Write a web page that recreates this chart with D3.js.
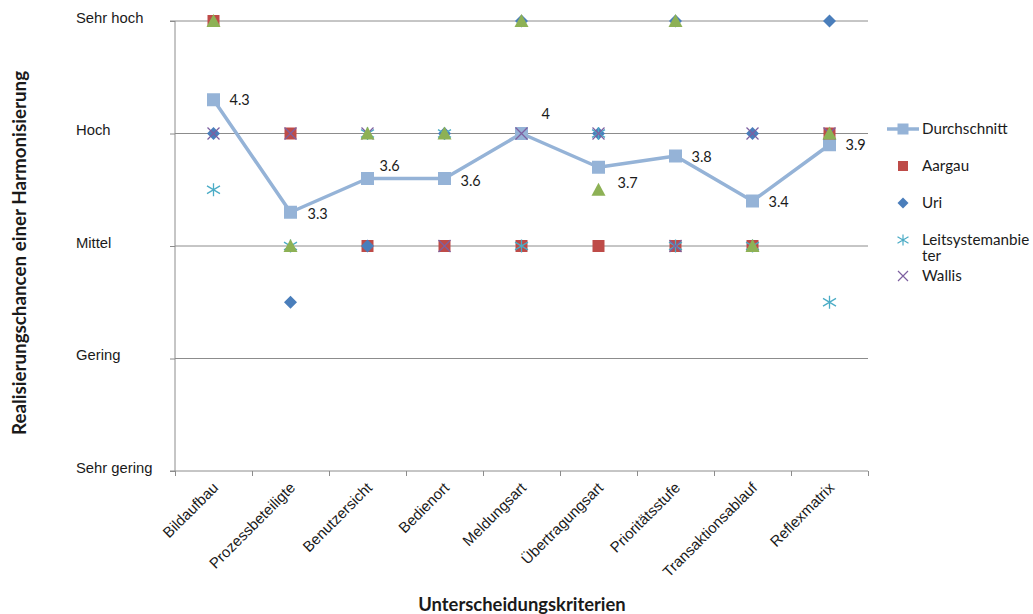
<!DOCTYPE html>
<html>
<head>
<meta charset="utf-8">
<script src="https://cdn.jsdelivr.net/npm/d3@7/dist/d3.min.js"></script>
<style>
  html, body { margin: 0; padding: 0; background: #fff; }
  svg { display: block; font-family: Lato, "Open Sans", sans-serif; }
</style>
</head>
<body>
<svg id="chart" width="1033" height="614"></svg>
<script>
// Criteria along the x axis
const categories = ["Bildaufbau", "Prozessbeteiligte", "Benutzersicht", "Bedienort",
  "Meldungsart", "Übertragungsart", "Prioritätsstufe", "Transaktionsablauf", "Reflexmatrix"];

// Rating scale (1 = sehr gering … 5 = sehr hoch)
const levelValues = [1, 2, 3, 4, 5];
const levelLabels = ["Sehr gering", "Gering", "Mittel", "Hoch", "Sehr hoch"];

// Ratings per respondent
const durchschnitt = [4.3, 3.3, 3.6, 3.6, 4, 3.7, 3.8, 3.4, 3.9];
const aargau       = [5, 4, 3, 3, 3, 3, 3, 3, 4];
const uri          = [4, 2.5, 3, 4, 5, 4, 5, 4, 5];
const leitsystem   = [3.5, 3, 4, 4, 3, 4, 3, 3, 2.5];
const wallis       = [4, 4, 4, 3, 4, 4, 3, 4, 4];
const sechsteReihe = [5, 3, 4, 4, 5, 3.5, 5, 3, 4];

// Label nudges for the average values (layout only)
const labelOffsets = [[16, 0], [17, 2], [12, -13], [16, 2], [20, -20], [19, 16], [16, 1], [16, 1], [16, 0]];

const svg = d3.select("#chart");
const plot = { left: 175, right: 868, top: 21, bottom: 471 };

const x = d3.scaleBand().domain(categories).range([plot.left, plot.right]);
const xi = d3.scaleLinear().domain([0, categories.length]).range([plot.left, plot.right]);
const y = d3.scaleLinear().domain([1, 5]).range([plot.bottom, plot.top]);
const cx = c => x(c) + x.bandwidth() / 2;

const gridColor = "#8c8c8c";
const textColor = "#1a1a1a";

// horizontal gridlines
svg.append("g")
  .selectAll("line")
  .data(levelValues.filter(v => v > 1))
  .join("line")
  .attr("x1", plot.left).attr("x2", plot.right)
  .attr("y1", d => y(d)).attr("y2", d => y(d))
  .attr("stroke", gridColor).attr("stroke-width", 1);

// y axis
const yAxis = svg.append("g")
  .attr("transform", `translate(${plot.left},0)`)
  .call(d3.axisLeft(y).tickValues(levelValues)
    .tickFormat((d, i) => levelLabels[i]).tickSize(5).tickPadding(0));
yAxis.select(".domain").attr("stroke", gridColor).attr("d", `M-5,${plot.top}H0V${plot.bottom}H-5`);
yAxis.selectAll(".tick line").attr("stroke", gridColor);
yAxis.selectAll(".tick text")
  .attr("x", 76 - plot.left).attr("dy", "0.08em")
  .attr("text-anchor", "start")
  .attr("font-size", 14.8).attr("fill", textColor);

// x axis: boundary ticks
const xTicks = svg.append("g")
  .attr("transform", `translate(0,${plot.bottom})`)
  .call(d3.axisBottom(xi).tickValues(d3.range(categories.length + 1)).tickFormat("").tickSize(5));
xTicks.select(".domain").attr("stroke", gridColor).attr("d", `M${plot.left},0H${plot.right}`);
xTicks.selectAll(".tick line").attr("stroke", gridColor);

// x axis: rotated category labels
const xLab = svg.append("g")
  .attr("transform", `translate(0,${plot.bottom})`)
  .call(d3.axisBottom(x).tickSize(0).tickPadding(0));
xLab.select(".domain").remove();
xLab.selectAll(".tick text")
  .attr("text-anchor", "end")
  .attr("font-size", 15).attr("fill", textColor)
  .attr("transform", "translate(2,14) rotate(-45)")
  .attr("dy", "0.35em").attr("y", 0);

// axis titles
svg.append("text")
  .attr("transform", `translate(26,253) rotate(-90)`)
  .attr("text-anchor", "middle")
  .attr("font-size", 18.8).attr("font-weight", "bold").attr("fill", textColor)
  .text("Realisierungschancen einer Harmonisierung");
svg.append("text")
  .attr("x", 522).attr("y", 611)
  .attr("text-anchor", "middle")
  .attr("font-size", 18.4).attr("font-weight", "bold").attr("fill", textColor)
  .text("Unterscheidungskriterien");

// marker shapes
const sqPath = s => `M${-s},${-s}H${s}V${s}H${-s}Z`;
const diamondPath = s => `M0,${-s}L${s},0L0,${s}L${-s},0Z`;
const trianglePath = s => `M0,${-s}L${s},${s * 0.85}H${-s}Z`;
const crossPath = s => `M${-s},${-s}L${s},${s}M${s},${-s}L${-s},${s}`;
const starPath = s => `M0,${-s}V${s}M${-s},${-s * 0.6}L${s},${s * 0.6}M${s},${-s * 0.6}L${-s},${s * 0.6}`;

const series = [
  { name: "Aargau", values: aargau, path: sqPath(6), fill: "#be4b48", stroke: "none" },
  { name: "Uri", values: uri, path: diamondPath(6.5), fill: "#4a7ebb", stroke: "none" },
  { name: "Leitsystemanbieter", values: leitsystem, path: starPath(6.5), fill: "none", stroke: "#4bacc6" },
  { name: "Wallis", values: wallis, path: crossPath(6), fill: "none", stroke: "#7d60a0" },
  { name: "", values: sechsteReihe, path: trianglePath(7), fill: "#8db155", stroke: "none" }
];

// average line
const avgColor = "#95b3d7";
const line = d3.line().x((d, i) => cx(categories[i])).y(d => y(d));
svg.append("path")
  .datum(durchschnitt)
  .attr("d", line)
  .attr("fill", "none").attr("stroke", avgColor).attr("stroke-width", 3.5)
  .attr("stroke-linejoin", "round");
svg.append("g").selectAll("path")
  .data(durchschnitt)
  .join("path")
  .attr("transform", (d, i) => `translate(${cx(categories[i])},${y(d)})`)
  .attr("d", sqPath(6.5)).attr("fill", avgColor);

// respondent markers
series.forEach(s => {
  svg.append("g").selectAll("path")
    .data(s.values)
    .join("path")
    .attr("transform", (d, i) => `translate(${cx(categories[i])},${y(d)})`)
    .attr("d", s.path)
    .attr("fill", s.fill)
    .attr("stroke", s.stroke).attr("stroke-width", s.stroke === "none" ? 0 : 1.3);
});

// average value labels
svg.append("g").selectAll("text")
  .data(durchschnitt)
  .join("text")
  .attr("x", (d, i) => cx(categories[i]) + labelOffsets[i][0])
  .attr("y", (d, i) => y(d) + labelOffsets[i][1])
  .attr("dy", "0.35em")
  .attr("font-size", 14.5).attr("fill", textColor)
  .text(d => String(d));

// legend
const lg = svg.append("g").attr("transform", "translate(887,0)");
const legendRows = [
  { label: ["Durchschnitt"], y: 129 },
  { label: ["Aargau"], y: 166, s: series[0] },
  { label: ["Uri"], y: 203, s: series[1] },
  { label: ["Leitsystemanbie", "ter"], y: 240, s: series[2] },
  { label: ["Wallis"], y: 276, s: series[3] }
];
legendRows.forEach((r, k) => {
  if (k === 0) {
    lg.append("line").attr("x1", 0).attr("x2", 32).attr("y1", r.y).attr("y2", r.y)
      .attr("stroke", avgColor).attr("stroke-width", 3.5);
    lg.append("path").attr("transform", `translate(16,${r.y})`).attr("d", sqPath(5.5)).attr("fill", avgColor);
  } else {
    lg.append("path").attr("transform", `translate(16,${r.y})`)
      .attr("d", k === 1 ? sqPath(5) : k === 2 ? diamondPath(5.5) : k === 3 ? starPath(5.5) : crossPath(5))
      .attr("fill", r.s.fill).attr("stroke", r.s.stroke).attr("stroke-width", r.s.stroke === "none" ? 0 : 1.2);
  }
  r.label.forEach((t, j) => {
    lg.append("text").attr("x", 35).attr("y", r.y + j * 16).attr("dy", "0.35em")
      .attr("font-size", 15.2).attr("fill", textColor).text(t);
  });
});
</script>
</body>
</html>
